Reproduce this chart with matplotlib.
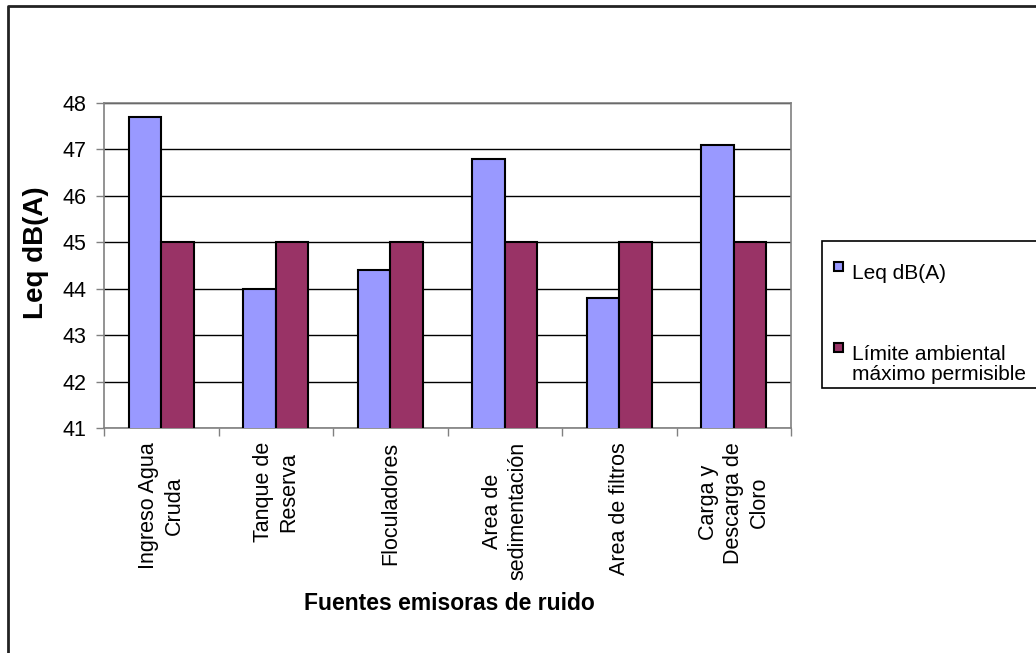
import numpy as np
import matplotlib.pyplot as plt
from matplotlib.patches import Rectangle
from matplotlib.lines import Line2D

plt.rcParams['font.family'] = ['Liberation Sans', 'DejaVu Sans']

categorias = ['Ingreso Agua\nCruda', 'Tanque de\nReserva', 'Floculadores',
              'Area de\nsedimentación', 'Area de filtros',
              'Carga y\nDescarga de\nCloro']
leq = [47.7, 44.0, 44.4, 46.8, 43.8, 47.1]
limite = [45, 45, 45, 45, 45, 45]
serie_leq = 'Leq dB(A)'
serie_limite = 'Límite ambiental\nmáximo permisible'

azul = '#9999FF'
granate = '#993366'

W, H = 1036, 653
fig = plt.figure(figsize=(W / 100, H / 100), dpi=100)


def fx(px):
    return px / W


def fy(py):
    return 1 - py / H


ax = fig.add_axes([fx(104), fy(428), fx(791) - fx(104), fy(103) - fy(428)])

x = np.arange(len(categorias))
ancho = 1 / 3.5
ax.bar(x - ancho / 2, leq, ancho, color=azul, edgecolor='black',
       linewidth=1.5, zorder=3)
ax.bar(x + ancho / 2, limite, ancho, color=granate, edgecolor='black',
       linewidth=1.5, zorder=3)

ax.set_ylim(41, 48)
ax.set_xlim(-0.5, len(categorias) - 0.5)
ax.set_yticks(range(41, 49))
ax.yaxis.grid(True, color='black', linewidth=1, zorder=0)
ax.set_axisbelow(True)

# ticks del eje x entre categorias, etiquetas centradas en cada grupo
ax.set_xticks(np.arange(len(categorias) + 1) - 0.5)
ax.set_xticklabels([])
ax.set_xticks(x, minor=True)
ax.set_xticklabels(categorias, minor=True, rotation=90, fontsize=15.5,
                   ha='center', va='top', multialignment='center',
                   linespacing=1.28)
ax.tick_params(axis='x', which='minor', length=0, pad=10)
ax.tick_params(axis='x', which='major', length=5.5, color='#808080', width=1)
ax.tick_params(axis='y', length=5.5, color='#808080', width=1,
               labelsize=15.5, pad=7)

for lado in ['left', 'right', 'bottom', 'top']:
    ax.spines[lado].set_color('#808080')
    ax.spines[lado].set_linewidth(1.2)

ax.set_ylabel('Leq dB(A)', fontsize=20, fontweight='bold')
ax.yaxis.set_label_coords(-55 / 687, 0.538)
fig.text(fx(449), fy(603), 'Fuentes emisoras de ruido', fontsize=16.5,
         fontweight='bold', ha='center', va='center')

# leyenda
fig.add_artist(Rectangle((fx(822), fy(388)), fx(1040) - fx(822),
                         fy(241) - fy(388), transform=fig.transFigure,
                         facecolor='white', edgecolor='black', linewidth=1.2))
for py, color, texto in [(266.5, azul, serie_leq), (347.5, granate, serie_limite)]:
    fig.add_artist(Rectangle((fx(834), fy(py + 4.5)), fx(843) - fx(834),
                             fy(py - 4.5) - fy(py + 4.5), transform=fig.transFigure,
                             facecolor=color, edgecolor='black', linewidth=1.5))
    lineas = texto.split('\n')
    for i, linea in enumerate(lineas):
        fig.text(fx(852), fy(py + 12 + 20 * i), linea, fontsize=15,
                 ha='left', va='baseline')

# borde del area del grafico
fig.add_artist(Line2D([fx(8), fx(8), fx(W + 5)], [fy(H + 5), fy(5.5), fy(5.5)],
                      transform=fig.transFigure, color='#222222', linewidth=2))

fig.savefig('out.png', dpi=100)
